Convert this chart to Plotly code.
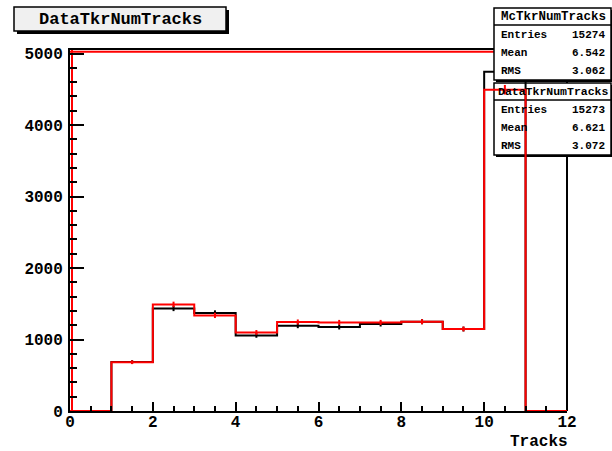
import numpy as np
import plotly.graph_objects as go

# ---------------- data ----------------
bin_edges = list(range(0, 13))            # 0..12, 12 bins of width 1
mc_counts = [0, 685, 1435, 1371, 1057, 1193, 1175, 1217, 1249, 1147, 4745, 0]
data_counts = [0, 682, 1491, 1337, 1099, 1245, 1239, 1239, 1249, 1147, 4494, 0]

x_ticks = [0, 2, 4, 6, 8, 10, 12]
y_ticks = [0, 1000, 2000, 3000, 4000, 5000]

mc_stats = [("Entries", "15274"), ("Mean", "6.542"), ("RMS", "3.062")]
data_stats = [("Entries", "15273"), ("Mean", "6.621"), ("RMS", "3.072")]

title_text = "DataTkrNumTracks"
x_title = "Tracks"

# ---------------- layout geometry (pixels) ----------------
W, H = 612, 451
L, R, T, B = 70, 567, 50, 411   # plot frame
FONT = "Liberation Mono"

def px(x):
    return (x - L) / (R - L)

def py(y):
    return (B - y) / (B - T)

fig = go.Figure()

def add_hist(counts, color):
    xs = bin_edges
    ys = counts + [counts[-1]]
    fig.add_trace(go.Scatter(x=xs, y=ys, mode="lines", line=dict(color=color, width=2, shape="hv"),
                             hoverinfo="skip", showlegend=False))
    centers = [e + 0.5 for e in bin_edges[:-1]]
    cx = [c for c, v in zip(centers, counts) if v > 0]
    cy = [v for v in counts if v > 0]
    fig.add_trace(go.Scatter(x=cx, y=cy, mode="markers", marker=dict(size=1, color=color, opacity=0),
                             error_y=dict(type="data", array=list(np.sqrt(cy)), width=0,
                                          thickness=2, color=color),
                             hoverinfo="skip", showlegend=False))

add_hist(mc_counts, "black")
add_hist(data_counts, "#ff0000")

tickfont = dict(family=FONT, size=16, color="black", weight="bold")

fig.update_layout(
    width=W, height=H,
    margin=dict(l=L, r=W - R, t=T, b=H - B, pad=0),
    paper_bgcolor="white", plot_bgcolor="white",
    showlegend=False,
    xaxis=dict(range=[0, 12], tickvals=x_ticks, ticks="inside", ticklen=9, tickwidth=2,
               tickcolor="black", showgrid=False, zeroline=False, showline=True, linewidth=2,
               linecolor="black", mirror=True, tickfont=tickfont, ticklabelstandoff=-5,
               minor=dict(dtick=0.5, ticklen=5, tickwidth=2, tickcolor="black", ticks="inside")),
    yaxis=dict(range=[0, 5050], tickvals=y_ticks, ticks="inside", ticklen=14, tickwidth=2,
               tickcolor="black", showgrid=False, zeroline=False, showline=True, linewidth=2,
               linecolor="black", mirror=False, tickfont=tickfont, ticklabelstandoff=2,
               minor=dict(dtick=200, ticklen=7, tickwidth=2, tickcolor="black", ticks="inside")),
)

shapes = []
annotations = []

# red lines hugging the frame (top & left)
shapes.append(dict(type="line", xref="x", yref="y", x0=0, x1=12, y0=5025, y1=5025,
                   line=dict(color="#ff0000", width=2), layer="below"))
shapes.append(dict(type="line", xref="paper", yref="y", x0=px(72), x1=px(72), y0=0, y1=5050,
                   line=dict(color="#ff0000", width=2), layer="below"))
# right frame edge (drawn beneath the Data stats box)
shapes.append(dict(type="line", xref="paper", yref="paper", x0=1, x1=1, y0=0, y1=1,
                   line=dict(color="black", width=2), layer="between"))

def box(x0, y0, x1, y1, fill, sh=3, layer="above"):
    # shadow
    shapes.append(dict(type="rect", xref="paper", yref="paper",
                       x0=px(x0 + sh), x1=px(x1 + sh), y0=py(y1 + sh), y1=py(y0 + sh),
                       fillcolor="black", line=dict(width=0), layer=layer))
    shapes.append(dict(type="rect", xref="paper", yref="paper",
                       x0=px(x0), x1=px(x1), y0=py(y1), y1=py(y0),
                       fillcolor=fill, line=dict(color="black", width=1.5), layer=layer))

def text(x, y, s, size, anchor="center"):
    annotations.append(dict(xref="paper", yref="paper", x=px(x), y=py(y), text=s, showarrow=False,
                            xanchor=anchor, yanchor="middle",
                            font=dict(family=FONT, size=size, color="black", weight="bold")))

# title box
box(14, 7, 226, 31, "#f0f0f0")
text(120, 19.5, title_text, 17)

# stats boxes
def stats_box(y0, name, rows, hsize, layer):
    x0, x1 = 494, 611
    box(x0, y0, x1, y0 + 72, "white", sh=2, layer=layer)
    shapes.append(dict(type="line", xref="paper", yref="paper", x0=px(x0), x1=px(x1),
                       y0=py(y0 + 17), y1=py(y0 + 17), line=dict(color="black", width=1.5),
                       layer=layer))
    text((x0 + x1) / 2 + 1, y0 + 8.5, name, hsize)
    for i, (k, v) in enumerate(rows):
        yy = y0 + 27 + i * 18
        text(x0 + 5, yy, k, 11, "left")
        text(x1 - 4, yy, v, 11, "right")

stats_box(83, "DataTkrNumTracks", data_stats, 11.5, "between")
stats_box(8, "McTkrNumTracks", mc_stats, 12.5, "above")

# x axis title
annotations.append(dict(xref="paper", yref="paper", x=px(570), y=py(442), text=x_title,
                        showarrow=False, xanchor="right", yanchor="middle",
                        font=dict(family=FONT, size=16, color="black", weight="bold")))

fig.update_layout(shapes=shapes, annotations=annotations)
fig.write_html("out.html", config={"displayModeBar": False},
               post_script="document.body.style.margin='0';document.body.style.padding='0';")
